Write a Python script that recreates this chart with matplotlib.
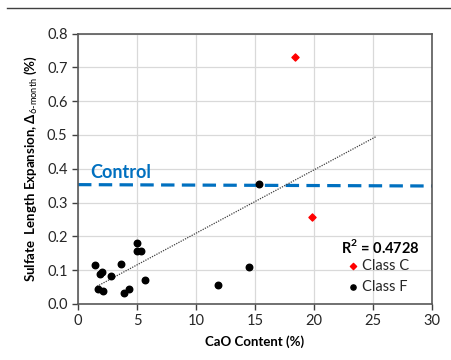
import matplotlib
matplotlib.use("Agg")
import matplotlib.pyplot as plt
from matplotlib.lines import Line2D

plt.rcParams['font.family'] = ['Lato', 'DejaVu Sans']
plt.rcParams['mathtext.fontset'] = 'custom'
plt.rcParams['mathtext.rm'] = 'Lato'
plt.rcParams['mathtext.bf'] = 'Lato:bold'

# Class F fly ashes (CaO %, 6-month expansion %)
class_f_cao = [1.44, 1.67, 1.86, 2.06, 2.15, 2.77, 3.64, 3.93, 4.29, 4.97, 4.97, 5.37, 5.71, 11.84, 14.46, 15.31]
class_f_exp = [0.116, 0.044, 0.090, 0.095, 0.037, 0.083, 0.119, 0.032, 0.043, 0.180, 0.157, 0.156, 0.072, 0.056, 0.108, 0.354]

# Class C fly ashes
class_c_cao = [18.39, 19.83]
class_c_exp = [0.732, 0.257]

# linear trendline endpoints and control level
trend_x = [1.6, 25.25]
trend_y = [0.052, 0.495]
control_x = [0, 30]
control_y = [0.353, 0.349]

fig = plt.figure(figsize=(4.52, 3.6), dpi=100)
ax = fig.add_axes([0.1726, 0.1556, 0.9558 - 0.1726, 0.9069 - 0.1556])

# separator line at top of the figure
fig.add_artist(Line2D([7 / 452, 1.0], [1 - 8 / 360, 1 - 8 / 360], color='#404040', lw=1.0))

ax.plot(control_x, control_y, color='#0070C0', lw=2.3, dashes=(4.2, 2.3), zorder=2)
ax.plot(trend_x, trend_y, color='#404040', lw=0.9, ls=(0, (1, 1)), zorder=3)
ax.scatter(class_c_cao, class_c_exp, marker='D', s=13, color='#FF0000', zorder=4)
ax.scatter(class_f_cao, class_f_exp, marker='o', s=22, color='black', zorder=4)

ax.text(1.0, 0.39, 'Control', color='#0070C0', fontsize=13, fontweight='bold', va='center')
ax.text(25.6, 0.169, 'R$^\\mathbf{2}$ = 0.4728', fontsize=10.5, fontweight='bold', ha='center', va='center')
ax.scatter([23.3], [0.113], marker='D', s=10, color='#FF0000', zorder=4)
ax.text(24.1, 0.113, 'Class C', fontsize=10.5, va='center', color='#262626')
ax.scatter([23.3], [0.050], marker='o', s=14, color='black', zorder=4)
ax.text(24.1, 0.050, 'Class F', fontsize=10.5, va='center', color='#262626')

ax.set_xlim(0, 30)
ax.set_ylim(0, 0.8)
ax.set_xticks(range(0, 31, 5))
ax.set_yticks([i / 10 for i in range(9)])
ax.set_yticklabels([f'{i / 10:.1f}' for i in range(9)])
ax.grid(True, color='#D9D9D9', lw=0.9)
ax.set_axisbelow(True)
for s in ax.spines.values():
    s.set_color('#595959')
    s.set_linewidth(1.2)
ax.tick_params(labelsize=10.5, colors='#404040', labelcolor='#262626', length=4, width=1)

ax.set_xlabel('CaO Content (%)', fontsize=9.5, fontweight='bold', labelpad=5)
ax.set_ylabel('Sulfate  Length Expansion, $\\mathbf{\\Delta}_{\\mathrm{6\\text{-}month}}$ (%)',
              fontsize=9.5, fontweight='bold', labelpad=6)

fig.savefig('out.png', dpi=100)
